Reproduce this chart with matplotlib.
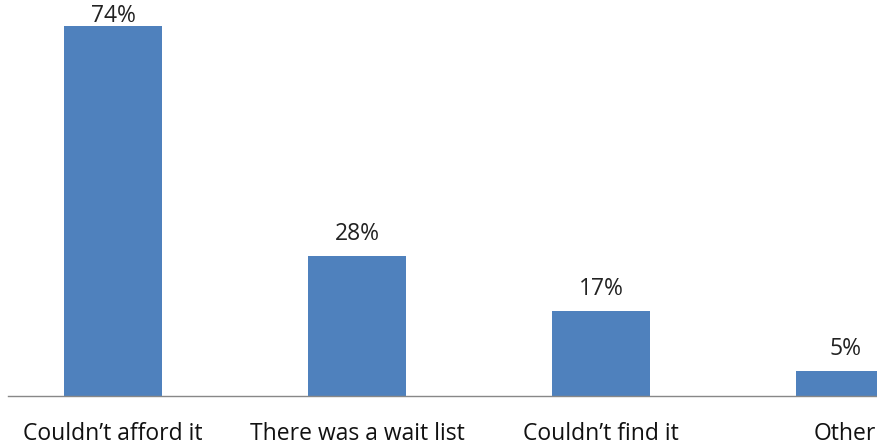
import matplotlib
matplotlib.use("Agg")
import matplotlib.pyplot as plt

categories = ["Couldn\u2019t afford it", "There was a wait list", "Couldn\u2019t find it", "Other"]
values = [74, 28, 17, 5]
value_labels = ["74%", "28%", "17%", "5%"]

plt.rcParams['font.family'] = ['Open Sans', 'DejaVu Sans']

fig = plt.figure(figsize=(8.77, 4.46), dpi=100)
H = 446.0
base_px = 395.5
px_per_unit = 369.5 / 74
ax = fig.add_axes([8/877, (H - base_px)/H, 869/877, base_px/H])
ymax = base_px / px_per_unit
ax.set_xlim(-0.43, 3.13)
ax.set_ylim(0, ymax)

x = list(range(len(categories)))
ax.bar(x, values, width=0.40, color="#4F81BD", zorder=2)
gap = 15.7 / px_per_unit          # label baseline above bar top
top_limit = ymax - 22 / px_per_unit  # keep labels inside the figure
for xi, v, lab in zip(x, values, value_labels):
    ly = min(v + gap, top_limit)
    ax.text(xi, ly, lab, ha="center", va="baseline", fontsize=16.5, color="#222222")

for s in ["top", "right", "left"]:
    ax.spines[s].set_visible(False)
ax.spines["bottom"].set_color("#888888")
ax.spines["bottom"].set_linewidth(1.0)
ax.set_yticks([])
ax.set_xticks(x)
ax.set_xticklabels(categories, fontsize=16.5, color="#111111")
ax.tick_params(axis="x", length=0, pad=19)

fig.savefig("out.png", dpi=100)
